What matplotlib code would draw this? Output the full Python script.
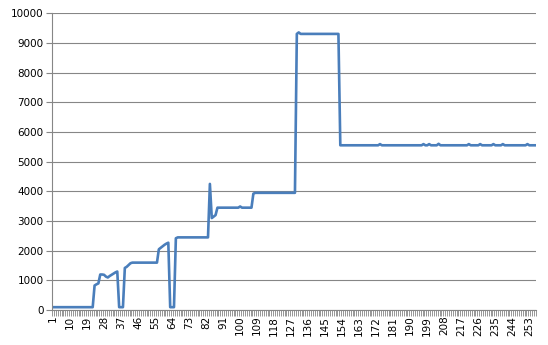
import numpy as np
import matplotlib.pyplot as plt

# (value, how many consecutive points)
runs = [
    (100, 22),
    (830, 1), (870, 1), (900, 1), (1200, 1), (1200, 1), (1190, 1), (1130, 1),
    (1100, 1), (1150, 1), (1190, 1), (1230, 1), (1270, 1), (1300, 1),
    (100, 3),
    (1420, 1), (1460, 1), (1520, 1), (1580, 1),
    (1600, 14),
    (2050, 1), (2100, 1), (2150, 1), (2200, 1), (2240, 1), (2270, 1),
    (100, 3),
    (2420, 1),
    (2450, 17),
    (4250, 1), (3100, 1), (3150, 1), (3200, 1),
    (3450, 12), (3490, 1), (3450, 6),
    (3920, 1),
    (3950, 22),
    (9300, 1), (9350, 1),
    (9300, 21),
    (5550, 21), (5590, 1), (5550, 22), (5590, 1), (5550, 2), (5590, 1),
    (5550, 4), (5600, 1), (5550, 15), (5590, 1), (5550, 5), (5590, 1),
    (5550, 6), (5590, 1), (5550, 4), (5590, 1), (5550, 12), (5590, 1),
    (5550, 4),
]

values = []
for v, n in runs:
    values += [v] * n
values = np.array(values)
x = np.arange(1, len(values) + 1)

x_labels = list(range(1, len(values) + 1, 9))
y_ticks = list(range(0, 10001, 1000))

fig = plt.figure(figsize=(5.48, 3.45), dpi=100)
ax = fig.add_axes([0.095, 0.101, 0.883, 0.861])

grid_col = '#868686'
ax.plot(x, values, color='#4a7ebb', lw=1.9, solid_joinstyle='round')

ax.set_xlim(0.5, len(values) + 0.5)
ax.set_ylim(0, 10000)
ax.set_yticks(y_ticks)
ax.set_xticks(x_labels)
ax.set_xticklabels([str(v) for v in x_labels], rotation=90)
ax.set_xticks(np.arange(0.5, len(values) + 1), minor=True)

ax.grid(axis='y', color=grid_col, lw=0.8)
ax.set_axisbelow(True)
for s in ['top', 'right']:
    ax.spines[s].set_visible(False)
for s in ['left', 'bottom']:
    ax.spines[s].set_color(grid_col)
    ax.spines[s].set_linewidth(0.8)

ax.tick_params(axis='y', length=4, color=grid_col, labelsize=7.5, pad=2)
ax.tick_params(axis='x', which='major', length=0, labelsize=7.5, pad=4)
ax.tick_params(axis='x', which='minor', length=4, color=grid_col, width=0.6)

fig.savefig('out.png', dpi=100)
